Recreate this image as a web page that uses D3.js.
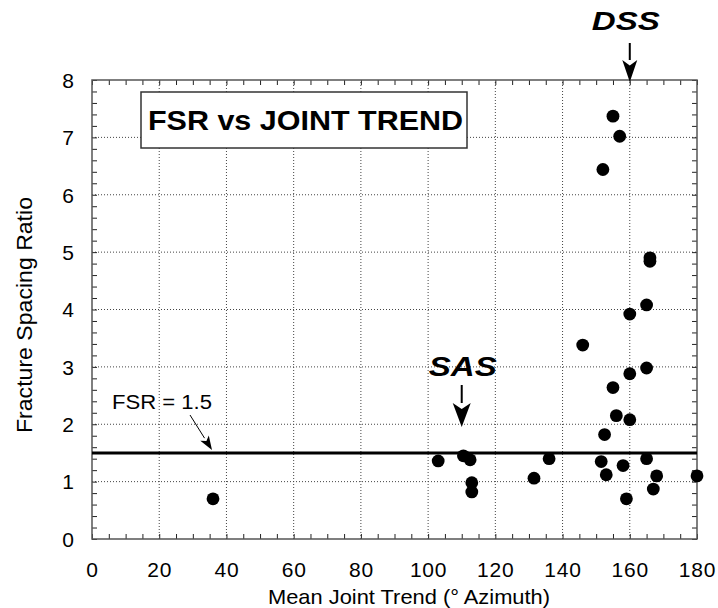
<!DOCTYPE html>
<html><head><meta charset="utf-8">
<script src="https://cdn.jsdelivr.net/npm/d3@7"></script>
<style>
body{margin:0;background:#fff;}
svg{display:block;font-family:"Liberation Sans",Arial,Helvetica,sans-serif;}
</style></head>
<body><svg id="chart" width="718" height="608"></svg>
<script>
// Data
const trend = [36, 103, 110.5, 112.5, 113, 113, 131.5, 136, 146, 151.5, 152, 152.5, 153, 155, 155, 156, 157, 158, 159, 160, 160, 160, 165, 165, 165, 166, 166, 167, 168, 180];
const fsr   = [0.70, 1.36, 1.45, 1.38, 0.98, 0.82, 1.06, 1.40, 3.38, 1.35, 6.44, 1.82, 1.12, 2.64, 7.37, 2.15, 7.02, 1.28, 0.70, 3.92, 2.88, 2.08, 4.08, 2.98, 1.40, 4.84, 4.90, 0.87, 1.10, 1.10];
const xTickLabels = [0, 20, 40, 60, 80, 100, 120, 140, 160, 180];
const yTickLabels = [0, 1, 2, 3, 4, 5, 6, 7, 8];
const thresholdFSR = 1.5;
const dssTrend = 160;
const sasTrend = 110;

const svg = d3.select("#chart");
const x = d3.scaleLinear().domain([0, 180]).range([92, 697]);
const y = d3.scaleLinear().domain([0, 8]).range([539, 80]);

// grid
const grid = svg.append("g");
grid.selectAll(".gx").data(xTickLabels.slice(1, -1)).join("line")
  .attr("x1", d => x(d)).attr("x2", d => x(d)).attr("y1", y(0)).attr("y2", y(8))
  .attr("stroke", "#444").attr("stroke-width", 1).attr("stroke-dasharray", "1,2");
grid.selectAll(".gy").data(yTickLabels.slice(1, -1)).join("line")
  .attr("x1", x(0)).attr("x2", x(180)).attr("y1", d => y(d)).attr("y2", d => y(d))
  .attr("stroke", "#444").attr("stroke-width", 1).attr("stroke-dasharray", "1,2");

// inner minor ticks on all four sides
const xMinor = d3.range(0, 181, 5);
const yMinor = d3.range(0, 8.001, 0.2);
function tickStyle(g){ g.select(".domain").remove(); g.selectAll("line").attr("stroke","#222"); }
svg.append("g").attr("transform", `translate(0,${y(0)})`)
  .call(d3.axisBottom(x).tickValues(xMinor).tickSize(-5).tickFormat("")).call(tickStyle);
svg.append("g").attr("transform", `translate(0,${y(8)})`)
  .call(d3.axisTop(x).tickValues(xMinor).tickSize(-5).tickFormat("")).call(tickStyle);
svg.append("g").attr("transform", `translate(${x(0)},0)`)
  .call(d3.axisLeft(y).tickValues(yMinor).tickSize(-5).tickFormat("")).call(tickStyle);
svg.append("g").attr("transform", `translate(${x(180)},0)`)
  .call(d3.axisRight(y).tickValues(yMinor).tickSize(-5).tickFormat("")).call(tickStyle);

// frame
svg.append("rect").attr("x", x(0)).attr("y", y(8)).attr("width", x(180) - x(0)).attr("height", y(0) - y(8))
  .attr("fill", "none").attr("stroke", "#555").attr("stroke-width", 1.5);

// tick labels
const xl = svg.append("g").attr("transform", `translate(0,${y(0)})`)
  .call(d3.axisBottom(x).tickValues(xTickLabels).tickSize(0).tickPadding(22).tickFormat(d3.format("d")));
xl.select(".domain").remove();
xl.selectAll("text").attr("font-size", 21).attr("font-family", "Liberation Sans, Arial, sans-serif").attr("fill", "#000")
  .attr("dy", 0).attr("y", 38).attr("letter-spacing", 0.8);
const yl = svg.append("g").attr("transform", `translate(${x(0)},0)`)
  .call(d3.axisLeft(y).tickValues(yTickLabels).tickSize(0).tickPadding(18).tickFormat(d3.format("d")));
yl.select(".domain").remove();
yl.selectAll("text").attr("font-size", 21).attr("font-family", "Liberation Sans, Arial, sans-serif").attr("fill", "#000")
  .attr("dy", "0.35em");

// axis titles
svg.append("text").attr("x", 409).attr("y", 604).attr("text-anchor", "middle")
  .attr("font-size", 21).attr("textLength", 282).attr("lengthAdjust", "spacingAndGlyphs")
  .text("Mean Joint Trend (° Azimuth)");
svg.append("text").attr("transform", "translate(32,315) rotate(-90)").attr("text-anchor", "middle")
  .attr("font-size", 22).attr("textLength", 236).attr("lengthAdjust", "spacingAndGlyphs")
  .text("Fracture Spacing Ratio");

// FSR = 1.5 line
svg.append("line").attr("x1", x(0)).attr("x2", x(180)).attr("y1", y(thresholdFSR)).attr("y2", y(thresholdFSR))
  .attr("stroke", "#000").attr("stroke-width", 3);

// points
svg.append("g").selectAll("circle").data(trend.map((t, i) => [t, fsr[i]])).join("circle")
  .attr("cx", d => x(d[0])).attr("cy", d => y(d[1])).attr("r", 6.4).attr("fill", "#000");

// title box
svg.append("rect").attr("x", 141).attr("y", 92).attr("width", 326).attr("height", 56)
  .attr("fill", "#fff").attr("stroke", "#333").attr("stroke-width", 1.5);
svg.append("text").attr("x", 148).attr("y", 130).attr("font-size", 28).attr("font-weight", "bold")
  .attr("textLength", 315).attr("lengthAdjust", "spacingAndGlyphs").text("FSR vs JOINT TREND");

// arrows
function arrow(x1, y1, x2, y2, headLen, headHalf, width){
  const ang = Math.atan2(y2 - y1, x2 - x1);
  const bx = x2 - headLen * Math.cos(ang), by = y2 - headLen * Math.sin(ang);
  svg.append("line").attr("x1", x1).attr("y1", y1).attr("x2", bx).attr("y2", by)
    .attr("stroke", "#000").attr("stroke-width", width);
  const px = -Math.sin(ang) * headHalf, py = Math.cos(ang) * headHalf;
  const nx = x2 - headLen * 0.75 * Math.cos(ang), ny = y2 - headLen * 0.75 * Math.sin(ang);
  svg.append("path").attr("d", `M${x2},${y2}L${bx + px},${by + py}L${nx},${ny}L${bx - px},${by - py}Z`).attr("fill", "#000");
}
// DSS
svg.append("text").attr("x", x(dssTrend) - 4).attr("y", 30).attr("text-anchor", "middle")
  .attr("font-size", 26).attr("font-weight", "bold").attr("font-style", "italic")
  .attr("textLength", 68).attr("lengthAdjust", "spacingAndGlyphs").text("DSS");
arrow(x(dssTrend), 43, x(dssTrend), y(8) + 2, 22, 7.5, 2);
// SAS
svg.append("text").attr("x", x(sasTrend) + 1).attr("y", 376).attr("text-anchor", "middle")
  .attr("font-size", 27).attr("font-weight", "bold").attr("font-style", "italic")
  .attr("textLength", 68).attr("lengthAdjust", "spacingAndGlyphs").text("SAS");
arrow(x(sasTrend), 385, x(sasTrend), 427, 24, 9, 2);
// FSR label
svg.append("text").attr("x", 112).attr("y", 409).attr("font-size", 20)
  .attr("textLength", 100).attr("lengthAdjust", "spacingAndGlyphs").text("FSR = 1.5");
arrow(190, 415, 212, 450, 14, 5, 1);
</script></body></html>
